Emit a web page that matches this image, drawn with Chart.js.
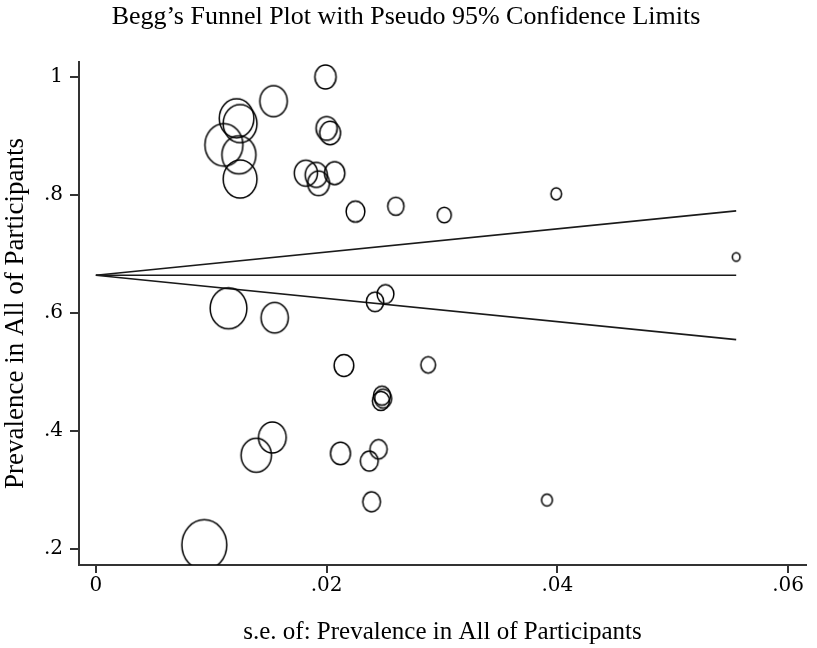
<!DOCTYPE html>
<html lang="en">
<head>
<meta charset="UTF-8">
<title>Begg's Funnel Plot</title>
<script src="https://cdn.jsdelivr.net/npm/chart.js"></script>
<style>
  html, body { margin: 0; padding: 0; background: #fff; }
</style>
</head>
<body>
<canvas id="funnel" width="817" height="648"></canvas>
<script>
  // studies: standard error (x) and prevalence (y)
  const seValues = [
    0.0199, 0.0154, 0.0122, 0.0125, 0.0111, 0.0124, 0.0125, 0.0200, 0.0203,
    0.0182, 0.0191, 0.0193, 0.0207, 0.0225, 0.0260, 0.0302, 0.0399, 0.0555,
    0.0115, 0.0155, 0.0242, 0.0251, 0.0215, 0.0288, 0.0248, 0.0249, 0.0247,
    0.0153, 0.0139, 0.0212, 0.0245, 0.0237, 0.0239, 0.0391, 0.0094
  ];
  const prevalence = [
    1.000, 0.959, 0.930, 0.921, 0.885, 0.868, 0.827, 0.913, 0.905,
    0.837, 0.834, 0.820, 0.837, 0.772, 0.781, 0.766, 0.802, 0.695,
    0.608, 0.592, 0.619, 0.632, 0.511, 0.512, 0.460, 0.455, 0.451,
    0.389, 0.359, 0.362, 0.369, 0.349, 0.280, 0.283, 0.207
  ];

  // pooled estimate and pseudo 95% limits
  const limitSe = [0, 0.0555];
  const pooledLine = [0.664, 0.664];
  const upperLimit = [0.664, 0.773];
  const lowerLimit = [0.664, 0.555];

  const xTicks = [0, 0.02, 0.04, 0.06];
  const xTickLabels = ['0', '.02', '.04', '.06'];
  const yTicks = [0.2, 0.4, 0.6, 0.8, 1];
  const yTickLabels = ['.2', '.4', '.6', '.8', '1'];

  const FONT = '"Liberation Serif", "DejaVu Serif", serif';
  const TICK_FONT = '"DejaVu Serif", "Liberation Serif", serif';
  const INK = '#000';
  const AXIS = '#333';

  // symbols are weighted by 1/se, drawn slightly taller than wide like the original
  const markerCache = {};
  function marker(se) {
    const rx = 0.211 / se, ry = 0.237 / se;
    const key = se.toFixed(4);
    if (markerCache[key]) return markerCache[key];
    const c = document.createElement('canvas');
    c.width = Math.ceil(rx * 2 + 4);
    c.height = Math.ceil(ry * 2 + 4);
    const g = c.getContext('2d');
    g.strokeStyle = '#000';
    g.lineWidth = 1.5;
    g.beginPath();
    g.ellipse(c.width / 2, c.height / 2, rx, ry, 0, 0, Math.PI * 2);
    g.stroke();
    markerCache[key] = c;
    return c;
  }

  const toPoints = (xs, ys) => xs.map((x, i) => ({ x: x, y: ys[i] }));

  const limitStyle = {
    showLine: true,
    borderColor: '#1a1a1a',
    borderWidth: 1.7,
    pointRadius: 0,
    fill: false
  };

  new Chart(document.getElementById('funnel'), {
    type: 'scatter',
    data: {
      datasets: [
        {
          label: 'Studies',
          data: toPoints(seValues, prevalence),
          pointStyle: ctx => marker(ctx.raw.x),
          pointRadius: 10
        },
        Object.assign({ label: 'Pooled', data: toPoints(limitSe, pooledLine) }, limitStyle),
        Object.assign({ label: 'Upper limit', data: toPoints(limitSe, upperLimit) }, limitStyle),
        Object.assign({ label: 'Lower limit', data: toPoints(limitSe, lowerLimit) }, limitStyle)
      ]
    },
    options: {
      responsive: false,
      animation: false,
      events: [],
      layout: { padding: { top: 0, right: 5, bottom: 0, left: 0 } },
      plugins: {
        legend: { display: false },
        tooltip: { enabled: false },
        title: {
          display: true,
          text: 'Begg\u2019s Funnel Plot with Pseudo 95% Confidence Limits',
          color: INK,
          font: { family: FONT, size: 26, weight: 'normal', lineHeight: 1.2 },
          padding: { top: 2, bottom: 28.8 }
        }
      },
      scales: {
        x: {
          type: 'linear',
          min: -0.00146,
          max: 0.06155,
          afterFit: s => { s.height = 83; },
          afterBuildTicks: s => { s.ticks = xTicks.map(v => ({ value: v })); },
          ticks: {
            color: INK,
            padding: 1,
            maxRotation: 0,
            font: { family: TICK_FONT, size: 20 },
            callback: v => xTickLabels[xTicks.indexOf(v)]
          },
          grid: { drawOnChartArea: false, tickLength: 8, color: AXIS, lineWidth: 2 },
          border: { display: true, color: AXIS, width: 2 },
          title: {
            display: true,
            text: 's.e. of: Prevalence in All of Participants',
            color: INK,
            font: { family: FONT, size: 25, lineHeight: 1.2 },
            padding: { top: 0, bottom: 1 }
          }
        },
        y: {
          type: 'linear',
          min: 0.1729,
          max: 1.0254,
          afterFit: s => { s.width = 79; },
          afterBuildTicks: s => { s.ticks = yTicks.map(v => ({ value: v })); },
          ticks: {
            color: INK,
            padding: 7,
            font: { family: TICK_FONT, size: 20 },
            callback: v => yTickLabels[yTicks.indexOf(v)]
          },
          grid: { drawOnChartArea: false, tickLength: 9, color: AXIS, lineWidth: 2 },
          border: { display: true, color: AXIS, width: 2 },
          title: {
            display: true,
            text: 'Prevalence in All of Participants',
            color: INK,
            font: { family: FONT, size: 27, lineHeight: 1.2 },
            padding: { top: 0, bottom: 0 }
          }
        }
      }
    }
  });
</script>
</body>
</html>
